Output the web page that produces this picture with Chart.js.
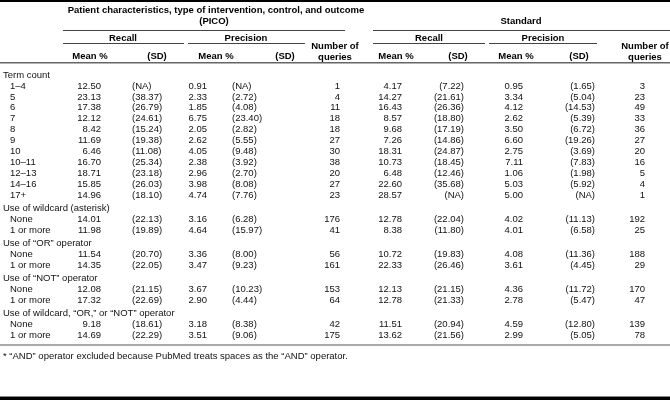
<!DOCTYPE html>
<html>
<head>
<meta charset="utf-8">
<script src="https://cdn.jsdelivr.net/npm/chart.js@4/dist/chart.umd.min.js"></script>
<style>
  html, body { margin: 0; padding: 0; background: #fff; }
  #c { display: block; }
</style>
</head>
<body>
<canvas id="c" width="670" height="400"></canvas>
<script>
// ---------------- DATA ----------------
const groupTitles = [
  "Term count",
  "Use of wildcard (asterisk)",
  "Use of \u201COR\u201D operator",
  "Use of \u201CNOT\u201D operator",
  "Use of wildcard, \u201COR,\u201D or \u201CNOT\u201D operator"
];
const groupRows = [
  ["1\u20134", "5", "6", "7", "8", "9", "10", "10\u201311", "12\u201313", "14\u201316", "17+"],
  ["None", "1 or more"],
  ["None", "1 or more"],
  ["None", "1 or more"],
  ["None", "1 or more"]
];
// PICO
const picoRecallMean = [12.50, 23.13, 17.38, 12.12, 8.42, 11.69, 6.46, 16.70, 18.71, 15.85, 14.96, 14.01, 11.98, 11.54, 14.35, 12.08, 17.32, 9.18, 14.69];
const picoRecallSD   = [null, 38.37, 26.79, 24.61, 15.24, 19.38, 11.08, 25.34, 23.18, 26.03, 18.10, 22.13, 19.89, 20.70, 22.05, 21.15, 22.69, 18.61, 22.29];
const picoPrecMean   = [0.91, 2.33, 1.85, 6.75, 2.05, 2.62, 4.05, 2.38, 2.96, 3.98, 4.74, 3.16, 4.64, 3.36, 3.47, 3.67, 2.90, 3.18, 3.51];
const picoPrecSD     = [null, 2.72, 4.08, 23.40, 2.82, 5.55, 9.48, 3.92, 2.70, 8.08, 7.76, 6.28, 15.97, 8.00, 9.23, 10.23, 4.44, 8.38, 9.06];
const picoQueries    = [1, 4, 11, 18, 18, 27, 30, 38, 20, 27, 23, 176, 41, 56, 161, 153, 64, 42, 175];
// Standard
const stdRecallMean  = [4.17, 14.27, 16.43, 8.57, 9.68, 7.26, 18.31, 10.73, 6.48, 22.60, 28.57, 12.78, 8.38, 10.72, 22.33, 12.13, 12.78, 11.51, 13.62];
const stdRecallSD    = [7.22, 21.61, 26.36, 18.80, 17.19, 14.86, 24.87, 18.45, 12.46, 35.68, null, 22.04, 11.80, 19.83, 26.46, 21.15, 21.33, 20.94, 21.56];
const stdPrecMean    = [0.95, 3.34, 4.12, 2.62, 3.50, 6.60, 2.75, 7.11, 1.06, 5.03, 5.00, 4.02, 4.01, 4.08, 3.61, 4.36, 2.78, 4.59, 2.99];
const stdPrecSD      = [1.65, 5.04, 14.53, 5.39, 6.72, 19.26, 3.69, 7.83, 1.98, 5.92, null, 11.13, 6.58, 11.36, 4.45, 11.72, 5.47, 12.80, 5.05];
const stdQueries     = [3, 23, 49, 33, 36, 27, 20, 16, 5, 4, 1, 192, 25, 188, 29, 170, 47, 139, 78];

const headerTop = ["Patient characteristics, type of intervention, control, and outcome", "(PICO)"];
const headerStd = "Standard";
const subHeads = ["Recall", "Precision"];
const colHeads = ["Mean %", "(SD)"];
const queriesHead = ["Number of", "queries"];
const footnote = "* \u201CAND\u201D operator excluded because PubMed treats spaces as the \u201CAND\u201D operator.";

// ---------------- LAYOUT / STYLE ----------------
const FONT = "'Liberation Sans', Arial, Helvetica, sans-serif";
const FS = 9.5;
const ROW_STEP = 10.95;     // px per row unit
const FIRST_ROW_PX = 75;    // pixel of row unit 0
const GROUP_GAP = 1.2;      // row units before a group title (vs 1 for a normal row)
const COLS = {
  title: { x: 3, align: "left" },
  label: { x: 10, align: "left" },
  pRM: { x: 101, align: "right" },
  pRS: { x: 132, align: "left" },
  pPM: { x: 207, align: "right" },
  pPS: { x: 232, align: "left" },
  pN:  { x: 340, align: "right" },
  sRM: { x: 402, align: "right" },
  sRS: { x: 464, align: "right" },
  sPM: { x: 523, align: "right" },
  sPS: { x: 595, align: "right" },
  sN:  { x: 645, align: "right" }
};

// Row positions (in row units) built from the group structure
const titleY = [], rowY = [], rowLabel = [];
let v = 0;
groupTitles.forEach((t, g) => {
  if (g > 0) v += GROUP_GAP;
  titleY.push(v);
  groupRows[g].forEach(lbl => { v += 1; rowY.push(v); rowLabel.push(lbl); });
});

const fmtMean = n => n.toFixed(2);
const fmtSD = n => n === null ? "(NA)" : "(" + n.toFixed(2) + ")";
const fmtN = n => String(n);

function textSet(key, texts, ys, bold) {
  return {
    label: key,
    data: ys.map(y => ({ x: COLS[key].x, y: y })),
    texts: texts,
    align: COLS[key].align,
    bold: !!bold,
    pointRadius: 0,
    pointHoverRadius: 0,
    showLine: false
  };
}

const datasets = [
  textSet("title", groupTitles, titleY),
  textSet("label", rowLabel, rowY),
  textSet("pRM", picoRecallMean.map(fmtMean), rowY),
  textSet("pRS", picoRecallSD.map(fmtSD), rowY),
  textSet("pPM", picoPrecMean.map(fmtMean), rowY),
  textSet("pPS", picoPrecSD.map(fmtSD), rowY),
  textSet("pN", picoQueries.map(fmtN), rowY),
  textSet("sRM", stdRecallMean.map(fmtMean), rowY),
  textSet("sRS", stdRecallSD.map(fmtSD), rowY),
  textSet("sPM", stdPrecMean.map(fmtMean), rowY),
  textSet("sPS", stdPrecSD.map(fmtSD), rowY),
  textSet("sN", stdQueries.map(fmtN), rowY)
];

const W = 670, H = 400;

const tablePlugin = {
  id: "tablePlugin",
  beforeDraw(chart) {
    const ctx = chart.ctx;
    ctx.save();
    ctx.fillStyle = "#fff";
    ctx.fillRect(0, 0, W, H);
    ctx.restore();
  },
  afterDatasetsDraw(chart) {
    const ctx = chart.ctx;
    ctx.save();
    ctx.fillStyle = "#111";
    ctx.textBaseline = "middle";
    chart.data.datasets.forEach((ds, i) => {
      const meta = chart.getDatasetMeta(i);
      ctx.font = (ds.bold ? "bold " : "") + FS + "px " + FONT;
      ctx.textAlign = ds.align;
      meta.data.forEach((el, j) => {
        ctx.fillText(ds.texts[j], el.x, el.y);
      });
    });

    // --- Rules ---
    const hLine = (x1, x2, y, w, col) => {
      ctx.fillStyle = col; ctx.fillRect(x1, y, x2 - x1, w);
    };
    hLine(0, W, 0, 2, "#000");
    hLine(0, W, 396, 1, "#888");
    hLine(0, W, 397, 3, "#000");
    hLine(63, 345, 30, 1, "#444");
    hLine(373, W, 30, 1, "#444");
    hLine(63, 184, 43, 1, "#444");
    hLine(188, 305, 43, 1, "#444");
    hLine(373, 485, 43, 1, "#444");
    hLine(489, 597, 43, 1, "#444");
    hLine(0, W, 62, 1.5, "#666");
    hLine(0, W, 344, 2, "#aaa");

    // --- Header text ---
    ctx.fillStyle = "#000";
    ctx.font = "bold " + FS + "px " + FONT;
    ctx.textAlign = "center";
    ctx.fillText(headerTop[0], 216, 10);
    ctx.fillText(headerTop[1], 214, 21);
    ctx.fillText(headerStd, 521, 21);
    ctx.fillText(subHeads[0], 123, 38);
    ctx.fillText(subHeads[1], 246, 38);
    ctx.fillText(subHeads[0], 429, 38);
    ctx.fillText(subHeads[1], 543, 38);
    ctx.fillText(colHeads[0], 90, 56);
    ctx.fillText(colHeads[1], 157, 56);
    ctx.fillText(colHeads[0], 216, 56);
    ctx.fillText(colHeads[1], 285, 56);
    ctx.fillText(colHeads[0], 396, 56);
    ctx.fillText(colHeads[1], 458, 56);
    ctx.fillText(colHeads[0], 516, 56);
    ctx.fillText(colHeads[1], 579, 56);
    ctx.fillText(queriesHead[0], 335, 46);
    ctx.fillText(queriesHead[1], 335, 57);
    ctx.fillText(queriesHead[0], 645, 46);
    ctx.fillText(queriesHead[1], 645, 57);

    ctx.font = FS + "px " + FONT;
    ctx.fillStyle = "#111";
    ctx.textAlign = "left";
    ctx.fillText(footnote, 3, 356);
    ctx.restore();
  }
};

new Chart(document.getElementById("c"), {
  type: "scatter",
  data: { datasets: datasets },
  options: {
    responsive: false,
    animation: false,
    devicePixelRatio: 1,
    events: [],
    layout: { padding: 0 },
    plugins: { legend: { display: false }, tooltip: { enabled: false } },
    scales: {
      x: { type: "linear", display: false, min: 0, max: W },
      y: {
        type: "linear", display: false, reverse: true,
        min: -FIRST_ROW_PX / ROW_STEP,
        max: (H - FIRST_ROW_PX) / ROW_STEP
      }
    }
  },
  plugins: [tablePlugin]
});
</script>
</body>
</html>
